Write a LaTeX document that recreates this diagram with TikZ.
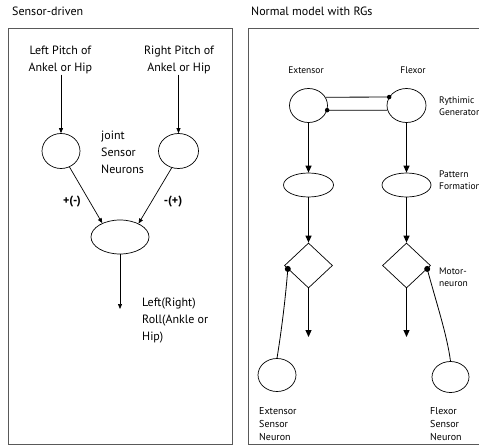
\documentclass[tikz,border=0pt]{standalone}
\usepackage{fontspec}
\setmainfont{PT Sans}
\usetikzlibrary{arrows.meta,shapes.geometric,calc}
\begin{document}
\begin{tikzpicture}[x=1pt,y=-1pt,
  panel/.style={draw=black!65, line width=0.9pt},
  title/.style={font=\fontsize{12}{15}\selectfont, inner sep=0, anchor=west},
  bigtxt/.style={font=\fontsize{12}{17}\selectfont, inner sep=0},
  signtxt/.style={font=\bfseries\fontsize{12}{15}\selectfont, inner sep=0},
  smalltxt/.style={font=\fontsize{9.5}{12}\selectfont, inner sep=0, align=left},
  labtxt/.style={font=\fontsize{10}{13}\selectfont, inner sep=0, align=left},
  cell/.style={draw, ellipse, inner sep=0, line width=0.7pt},
  gate/.style={draw, diamond, inner sep=0, line width=0.7pt, minimum width=48pt, minimum height=45pt},
  thinarrow/.style={-{Triangle[length=5pt,width=4pt]}, line width=0.7pt},
  boldarrow/.style={-{Triangle[length=7pt,width=6pt]}, line width=1.1pt},
  link/.style={line width=0.8pt},
  synapse/.style={circle, fill, inner sep=0, minimum size=4.5pt},
]
\useasboundingbox (0,0) rectangle (479,447);
\clip (0,0) rectangle (479,447);
\fill[white] (0,0) rectangle (479,447);

% ---------- sensor-driven panel ----------
\node[title] (t1) at (12,11) {Sensor-driven};
\draw[panel] (8,28) rectangle (232,444);

\node[bigtxt, align=center] (ltxt) at (60.4,60.4) {Left Pitch of\\Ankel or Hip};
\node[bigtxt, align=center] (rtxt) at (179,60.4) {Right Pitch of\\Ankel or Hip};

\node[cell, minimum width=38pt, minimum height=35pt] (lc) at (61,151) {};
\node[cell, minimum width=40pt, minimum height=35pt] (rc) at (178.5,151) {};
\node[bigtxt, align=left, anchor=west] (jsn) at (101,152) {joint\\Sensor\\Neurons};

\node[cell, minimum width=58pt, minimum height=34pt] (roll) at (120,237) {};
\coordinate (rollout) at (120,309);

\draw[thinarrow] (ltxt.south -| lc.north) -- (lc.north);
\draw[thinarrow] (rtxt.south -| rc.north) -- (rc.north);
\draw[thinarrow] (lc.-62) -- (roll.142);
\draw[thinarrow] (rc.-112) -- (roll.36);
\draw[thinarrow] (roll.south) -- (rollout);

\node[signtxt] (plus) at (72,202) {+(-)};
\node[signtxt] (minus) at (173,202) {-(+)};
\node[bigtxt, align=left, anchor=west] (rolltxt) at (142,320.5) {Left(Right)\\Roll(Ankle or\\Hip)};

% ---------- rhythm generator panel ----------
\node[title] (t2) at (251,11) {Normal model with RGs};
\draw[panel] (248,28) rectangle (500,444);

\node[smalltxt, anchor=center] (ext) at (306,70) {Extensor};
\node[smalltxt, anchor=center] (flx) at (413,70) {Flexor};

\node[cell, minimum width=38pt, minimum height=34pt] (rgE) at (308.5,105.5) {};
\node[cell, minimum width=39pt, minimum height=34pt] (rgF) at (406.5,105.5) {};
\node[smalltxt, anchor=west] (rgtxt) at (439,106) {Rythimic\\Generator};

% mutual inhibition between the two half-centres
\draw[link] (rgE.26) -- (rgF.154) node[synapse] (sy1) {};
\draw[link] (rgF.194) -- (rgE.-14) node[synapse] (sy2) {};

\node[cell, minimum width=50pt, minimum height=24pt] (peE) at (308.5,185) {};
\node[cell, minimum width=49pt, minimum height=24pt] (peF) at (406.5,185) {};
\node[smalltxt, anchor=west] (pftxt) at (439,180) {Pattern\\Formation};

\node[gate] (mnE) at (308.5,265.5) {};
\node[gate] (mnF) at (406.5,265.5) {};
\node[smalltxt, anchor=west] (mntxt) at (439,277) {Motor-\\neuron};

\coordinate (outE) at (308.5,337);
\coordinate (outF) at (406.5,337);

\draw[boldarrow] (rgE.south) -- (peE.north);
\draw[boldarrow] (rgF.south) -- (peF.north);
\draw[boldarrow] (peE.south) -- (mnE.north);
\draw[boldarrow] (peF.south) -- (mnF.north);
\draw[boldarrow] (mnE.south) -- (outE);
\draw[boldarrow] (mnF.south) -- (outF);

\node[cell, minimum width=38pt, minimum height=33pt] (snE) at (277,375) {};
\node[cell, minimum width=37pt, minimum height=31pt] (snF) at (450.5,377) {};

\node[synapse, minimum size=6pt] (dE) at ($(mnE.west)!0.15!(mnE.south)$) {};
\node[synapse, minimum size=6pt] (dF) at ($(mnF.east)!0.15!(mnF.south)$) {};

\draw[link] (dE.center) .. controls (285,305) and (280,340) .. (snE.north);
\draw[link] (dF.center) .. controls (437,305) and (447,335) .. (snF.north);

\node[labtxt, anchor=west] (setxt) at (259,424.5) {Extensor\\Sensor\\Neuron};
\node[labtxt, anchor=west] (sftxt) at (430,424.5) {Flexor\\Sensor\\Neuron};
\end{tikzpicture}
\end{document}
